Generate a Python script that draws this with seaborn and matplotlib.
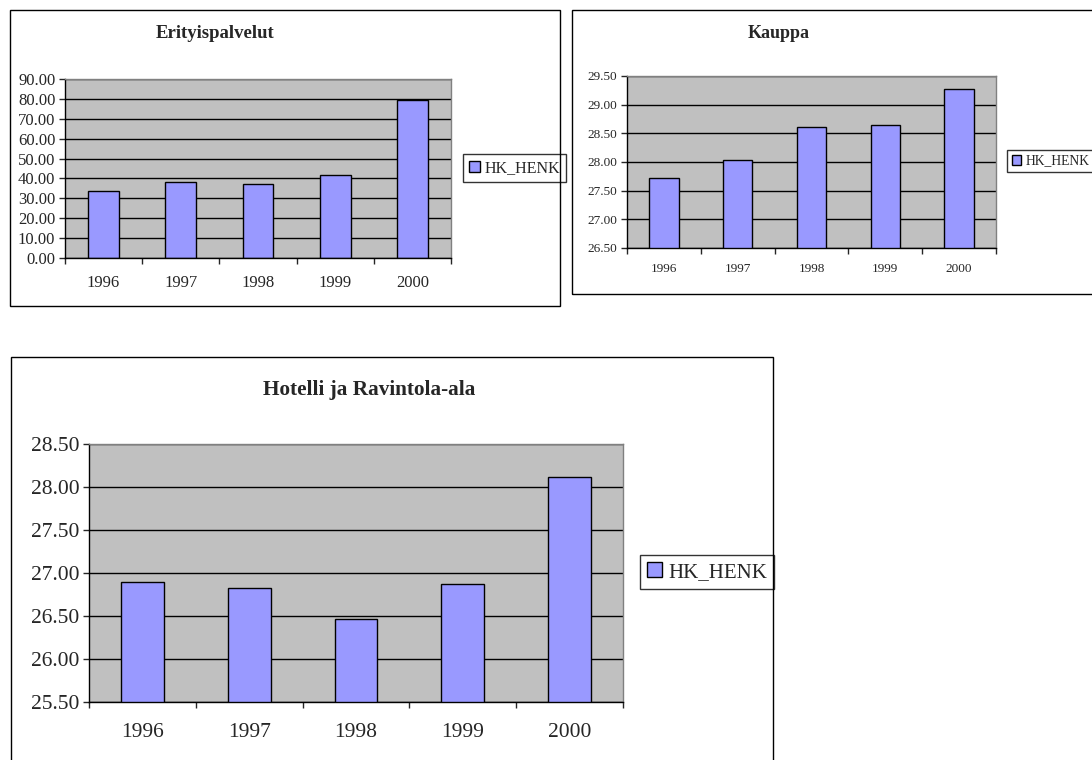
import pandas as pd
import matplotlib.pyplot as plt
import seaborn as sns
from matplotlib.patches import Rectangle
from matplotlib.ticker import FixedLocator

# Data
years = ["1996", "1997", "1998", "1999", "2000"]
erityispalvelut = [33.8, 38.0, 37.3, 41.5, 79.6]
kauppa = [27.72, 28.04, 28.61, 28.65, 29.27]
hotelli = [26.89, 26.83, 26.47, 26.87, 28.12]
series_name = "HK_HENK"

sns.set_style("white")
plt.rcParams["font.family"] = ["Liberation Serif", "DejaVu Serif"]

W, H = 1092, 760
fig = plt.figure(figsize=(W / 100, H / 100), dpi=100)


def px_box(x0, y0, x1, y1):
    # pixel box (top-left origin) -> figure fraction [left, bottom, width, height]
    return [x0 / W, 1 - y1 / H, (x1 - x0) / W, (y1 - y0) / H]


def frame(x0, y0, x1, y1):
    fig.patches.append(Rectangle((x0 / W, 1 - y1 / H), (x1 - x0) / W, (y1 - y0) / H,
                                 transform=fig.transFigure, fill=False,
                                 edgecolor="black", linewidth=1.0))


def panel(box, values, title, title_xy, ylim, ystep, tick_fs, leg_xy, leg_fs,
          title_fs, xpad):
    ax = fig.add_axes(px_box(*box))
    df = pd.DataFrame({"Year": years, "Value": values})
    sns.barplot(data=df, x="Year", y="Value", color="#9999FF", saturation=1,
                edgecolor="black", linewidth=1.0, width=0.4, ax=ax,
                label=series_name)
    ax.set_facecolor("#C0C0C0")
    ax.set_ylim(*ylim)
    ax.set_xlim(-0.5, 4.5)
    n = int(round((ylim[1] - ylim[0]) / ystep))
    yt = [ylim[0] + i * ystep for i in range(n + 1)]
    ax.set_yticks(yt)
    ax.set_yticklabels([f"{v:.2f}" for v in yt], fontsize=tick_fs)
    ax.yaxis.grid(True, color="black", linewidth=1.0)
    ax.set_axisbelow(True)
    ax.tick_params(axis="y", direction="out", length=4, width=1, pad=3, left=True)
    ax.tick_params(axis="x", which="major", length=0, pad=xpad, labelsize=tick_fs)
    ax.xaxis.set_minor_locator(FixedLocator([-0.5, 0.5, 1.5, 2.5, 3.5, 4.5]))
    ax.tick_params(axis="x", which="minor", direction="out", length=4, width=1,
                   bottom=True)
    ax.set_xlabel("")
    ax.set_ylabel("")
    for s in ["left", "bottom"]:
        ax.spines[s].set_color("black")
        ax.spines[s].set_linewidth(1.0)
    for s in ["top", "right"]:
        ax.spines[s].set_color("#808080")
        ax.spines[s].set_linewidth(1.0)
    handles, labels = ax.get_legend_handles_labels()
    leg = ax.legend(handles[:1], labels[:1], loc="center left",
                    bbox_to_anchor=(leg_xy[0] / W, 1 - leg_xy[1] / H),
                    bbox_transform=fig.transFigure, fontsize=leg_fs,
                    frameon=True, fancybox=False, shadow=False,
                    handlelength=0.7, handleheight=0.7, handletextpad=0.3,
                    borderpad=0.35, borderaxespad=0)
    leg.get_frame().set_edgecolor("black")
    leg.get_frame().set_linewidth(1.0)
    fig.text(title_xy[0] / W, 1 - title_xy[1] / H, title, ha="center", va="center",
             fontsize=title_fs, fontweight="bold")
    return ax


# Chart frames
frame(10, 10, 560, 306)
frame(572, 10, 1096, 294)
frame(11, 357, 773, 766)

panel((65, 79, 451, 258), erityispalvelut, "Erityispalvelut", (215, 33),
      (0, 90), 10, 12, (463, 168), 11.5, 13.5, 12)
panel((627, 76, 996, 248), kauppa, "Kauppa", (779, 33),
      (26.5, 29.5), 0.5, 9.5, (1007, 161), 9.8, 13, 11)
panel((89, 444, 623, 702), hotelli, "Hotelli ja Ravintola-ala", (369, 390),
      (25.5, 28.5), 0.5, 15.5, (640, 572), 15, 15.3, 15)

plt.savefig("out.png", dpi=100)
